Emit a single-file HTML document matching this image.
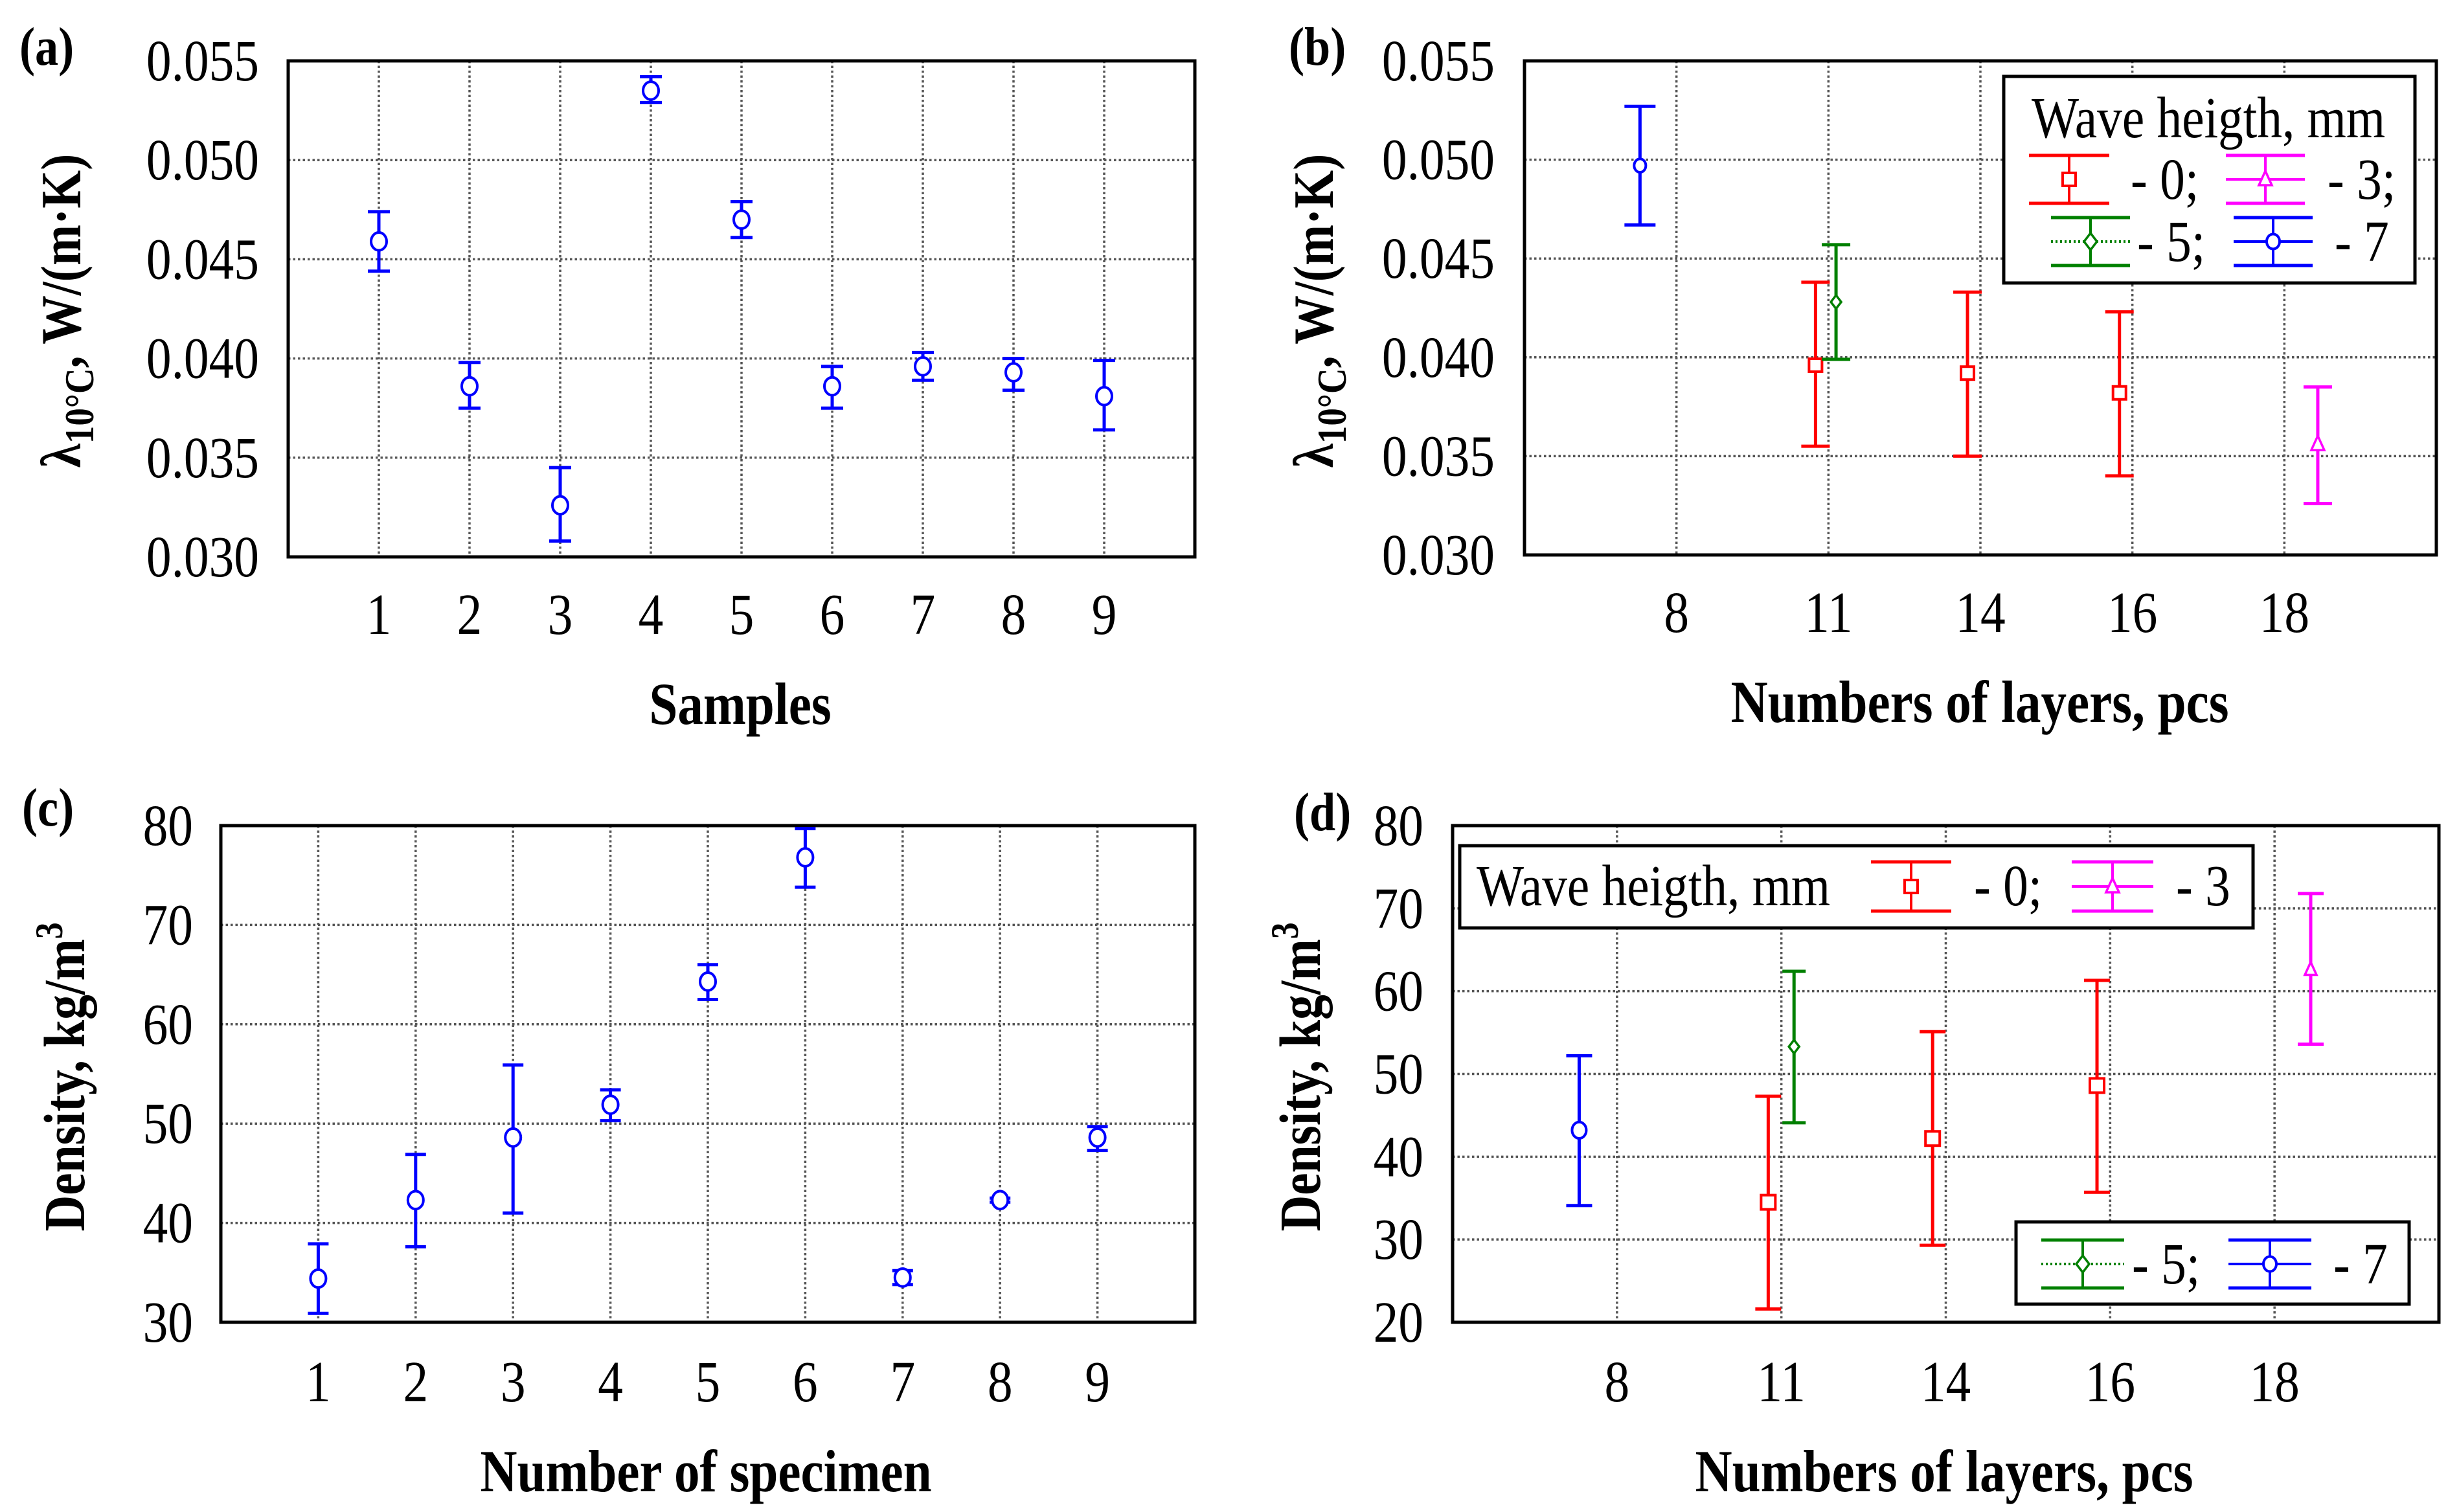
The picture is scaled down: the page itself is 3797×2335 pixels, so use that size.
<!DOCTYPE html>
<html><head><meta charset="utf-8"><style>
html,body{margin:0;padding:0;background:#fff;}
svg{display:block;font-family:"Liberation Serif","Times New Roman",Times,serif;}
svg text{font-family:"Liberation Serif","Times New Roman",Times,serif;fill:#000;}
</style></head>
<body>
<svg id="fig" xmlns="http://www.w3.org/2000/svg" width="3797" height="2335" viewBox="0 0 3797 2335" font-family="Liberation Serif, Times New Roman, serif"></svg>
<script>
// ---- Panel (a) data ----
const aCats = ['1','2','3','4','5','6','7','8','9'];
const aMean = [0.0459,0.0386,0.0326,0.0535,0.0470,0.0386,0.0396,0.0393,0.0381];
const aHi   = [0.0474,0.0398,0.0345,0.0542,0.0479,0.0396,0.0403,0.0400,0.0399];
const aLo   = [0.0444,0.0375,0.0308,0.0529,0.0461,0.0375,0.0389,0.0384,0.0364];
const aYTicks = ['0.030','0.035','0.040','0.045','0.050','0.055'];
const aYVals = [0.030,0.035,0.040,0.045,0.050,0.055];
// ---- Panel (b) data ----
const bCats = ['8','11','14','16','18'];
const bYTicks = ['0.030','0.035','0.040','0.045','0.050','0.055'];
const bYVals = [0.030,0.035,0.040,0.045,0.050,0.055];
const bRedIdx = [1,2,3];
const bRedMean = [0.0396,0.0392,0.0382];
const bRedHi = [0.0438,0.0433,0.0423];
const bRedLo = [0.0355,0.0350,0.0340];
const bGreenIdx = [1];
const bGreenMean = [0.0428];
const bGreenHi = [0.0457];
const bGreenLo = [0.0399];
const bBlueIdx = [0];
const bBlueMean = [0.0497];
const bBlueHi = [0.0527];
const bBlueLo = [0.0467];
const bMagIdx = [4];
const bMagMean = [0.0356];
const bMagHi = [0.0385];
const bMagLo = [0.0326];
// ---- Panel (c) data ----
const cCats = ['1','2','3','4','5','6','7','8','9'];
const cMean = [34.4,42.3,48.6,51.9,64.3,76.8,34.5,42.3,48.6];
const cHi   = [37.9,46.9,55.9,53.4,66.0,79.7,35.2,42.5,49.7];
const cLo   = [30.9,37.6,41.0,50.3,62.5,73.8,33.8,42.1,47.3];
const cYTicks = ['30','40','50','60','70','80'];
const cYVals = [30,40,50,60,70,80];
// ---- Panel (d) data ----
const dCats = ['8','11','14','16','18'];
const dYTicks = ['20','30','40','50','60','70','80'];
const dYVals = [20,30,40,50,60,70,80];
const dRedIdx = [1,2,3];
const dRedMean = [34.5,42.2,48.6];
const dRedHi = [47.3,55.1,61.3];
const dRedLo = [21.6,29.3,35.7];
const dGreenIdx = [1];
const dGreenMean = [53.3];
const dGreenHi = [62.4];
const dGreenLo = [44.1];
const dBlueIdx = [0];
const dBlueMean = [43.2];
const dBlueHi = [52.2];
const dBlueLo = [34.1];
const dMagIdx = [4];
const dMagMean = [62.6];
const dMagHi = [71.8];
const dMagLo = [53.6];

const NS = 'http://www.w3.org/2000/svg';
const FONT = '"Liberation Serif", "Times New Roman", serif';
const SX = 0.86;
const svg = document.getElementById('fig');
function mk(tag, attrs, parent){
  const e = document.createElementNS(NS, tag);
  for (const k in attrs) e.setAttribute(k, attrs[k]);
  if (tag === 'text'){
    e.style.fontFamily = FONT;
    if (attrs.transform){
      e.setAttribute('transform', attrs.transform + ` scale(${SX},1)`);
    } else {
      e.setAttribute('transform', `translate(${attrs.x},${attrs.y}) scale(${SX},1)`);
      e.setAttribute('x', 0);
      e.setAttribute('y', 0);
    }
  }
  (parent||svg).appendChild(e);
  return e;
}
function makeScale(b, xmin, xmax, ymin, ymax){
  return {
    x: v => b.x0 + (v - xmin) / (xmax - xmin) * (b.x1 - b.x0),
    y: v => b.y1 - (v - ymin) / (ymax - ymin) * (b.y1 - b.y0)
  };
}
function marker(g, type, cx, cy, color, s){
  let m;
  if (type === 'circle') m = mk('ellipse', {cx:cx, cy:cy, rx:s, ry:s*1.15, fill:'#fff', stroke:color, 'stroke-width':4}, g);
  else if (type === 'square') m = mk('rect', {x:cx-s, y:cy-s, width:2*s, height:2*s, fill:'#fff', stroke:color, 'stroke-width':4}, g);
  else if (type === 'diamond') m = mk('polygon', {points:`${cx},${cy-s*1.3} ${cx+s},${cy} ${cx},${cy+s*1.3} ${cx-s},${cy}`, fill:'#fff', stroke:color, 'stroke-width':3.5}, g);
  else m = mk('polygon', {points:`${cx},${cy-s*1.3} ${cx+s},${cy+s*0.9} ${cx-s},${cy+s*0.9}`, fill:'#fff', stroke:color, 'stroke-width':3.5}, g);
  
  
}
function errBar(g, x, yMean, yHi, yLo, color, cap, mtype, ms){
  const v = mk('line', {x1:x, x2:x, y1:yHi, y2:yLo, stroke:color, 'stroke-width':5}, g);
  
  
  const c1 = mk('line', {x1:x-cap, x2:x+cap, y1:yHi, y2:yHi, stroke:color, 'stroke-width':5}, g);
  
  
  const c2 = mk('line', {x1:x-cap, x2:x+cap, y1:yLo, y2:yLo, stroke:color, 'stroke-width':5}, g);
  
  
  marker(g, mtype, x, yMean, color, ms);
}
function frame(name, b, sc, xPos, xLabels, yVals, yLabels, tickRight, xLabelY){
  const g = mk('g', {});
  
  
  xPos.forEach(p => {
    const l = mk('line', {x1:sc.x(p), x2:sc.x(p), y1:b.y0, y2:b.y1, stroke:'#555', 'stroke-width':3.5, 'stroke-dasharray':'3.5 4'}, g);
    
    
  });
  yVals.forEach((v,i) => {
    if (i > 0 && i < yVals.length-1){
      const l = mk('line', {x1:b.x0, x2:b.x1, y1:sc.y(v), y2:sc.y(v), stroke:'#555', 'stroke-width':3.5, 'stroke-dasharray':'3.5 4'}, g);
      
      
    }
    const t = mk('text', {x:tickRight, y:sc.y(v)+30, 'text-anchor':'end', 'font-size':90}, g);
    t.textContent = yLabels[i];
    
    
  });
  xPos.forEach((p,i) => {
    const t = mk('text', {x:sc.x(p), y:xLabelY+30, 'text-anchor':'middle', 'font-size':90}, g);
    t.textContent = xLabels[i];
    
    
  });
  const r = mk('rect', {x:b.x0, y:b.y0, width:b.x1-b.x0, height:b.y1-b.y0, fill:'none', stroke:'#000', 'stroke-width':5}, g);
  
  
  return g;
}
function txt(x, y, s, size, bold, anchor, name){
  const t = mk('text', {x:x, y:y, 'font-size':size, 'font-weight':bold?'bold':'normal', 'text-anchor':anchor||'start'});
  t.textContent = s;
  
  
  return t;
}
function lambdaTitle(cx, cy){
  const t = mk('text', {x:0, y:0, 'font-size':88, 'font-weight':'bold', 'text-anchor':'middle', transform:`translate(${cx+28},${cy}) rotate(-90)`});
  
  
  const s1 = mk('tspan', {}, t); s1.textContent = 'λ';
  const s2 = mk('tspan', {'font-size':64, dy:20}, t); s2.textContent = '10°C';
  const s3 = mk('tspan', {dy:-20}, t); s3.textContent = ', W/(m·K)';
}
function densityTitle(cx, cy){
  const t = mk('text', {x:0, y:0, 'font-size':90, 'font-weight':'bold', 'text-anchor':'middle', transform:`translate(${cx+30},${cy}) rotate(-90)`});
  
  
  const s1 = mk('tspan', {}, t); s1.textContent = 'Density,  kg/m';
  const s2 = mk('tspan', {'font-size':60, dy:-34}, t); s2.textContent = '3';
}
function legendSym(g, cx, cy, half, hw, color, type, mid){
  const a = mk('line', {x1:cx-hw, x2:cx+hw, y1:cy-half, y2:cy-half, stroke:color, 'stroke-width':5}, g);
   
  const b2 = mk('line', {x1:cx-hw, x2:cx+hw, y1:cy+half, y2:cy+half, stroke:color, 'stroke-width':5}, g);
   
  const v = mk('line', {x1:cx, x2:cx, y1:cy-half, y2:cy+half, stroke:color, 'stroke-width':4}, g);
   
  if (mid){
    const m = mk('line', {x1:cx-hw, x2:cx+hw, y1:cy, y2:cy, stroke:color, 'stroke-width':4, 'stroke-dasharray': mid==='dot'?'3 4':'none'}, g);
     
  }
  marker(g, type, cx, cy, color, 10);
}

// ===== Panel (a) =====
const bA = {x0:445, x1:1845, y0:94, y1:860};
const sA = makeScale(bA, 0, 10, 0.030, 0.055);
const gA = frame('panel-a', bA, sA, aCats.map((c,i)=>i+1), aCats, aYVals, aYTicks, 400, 949);
aMean.forEach((v,i) => errBar(gA, sA.x(i+1), sA.y(v), sA.y(aHi[i]), sA.y(aLo[i]), '#0000ff', 17, 'circle', 12));
txt(30, 100, '(a)', 84, true, 'start', 'panel-label-a');
lambdaTitle(96, 480);
txt(1143, 1118, 'Samples', 92, true, 'middle', 'x-axis-title');

// ===== Panel (b) =====
const bB = {x0:2354, x1:3762, y0:94, y1:857};
const sB = makeScale(bB, -1, 5, 0.030, 0.055);
const gB = frame('panel-b', bB, sB, bCats.map((c,i)=>i), bCats, bYVals, bYTicks, 2308, 946);
bRedIdx.forEach((c,i) => errBar(gB, sB.x(c-0.085), sB.y(bRedMean[i]), sB.y(bRedHi[i]), sB.y(bRedLo[i]), '#ff0000', 22, 'square', 10));
bGreenIdx.forEach((c,i) => errBar(gB, sB.x(c+0.05), sB.y(bGreenMean[i]), sB.y(bGreenHi[i]), sB.y(bGreenLo[i]), '#008000', 22, 'diamond', 8));
bBlueIdx.forEach((c,i) => errBar(gB, sB.x(c-0.24), sB.y(bBlueMean[i]), sB.y(bBlueHi[i]), sB.y(bBlueLo[i]), '#0000ff', 24, 'circle', 9));
bMagIdx.forEach((c,i) => errBar(gB, sB.x(c+0.22), sB.y(bMagMean[i]), sB.y(bMagHi[i]), sB.y(bMagLo[i]), '#ff00ff', 22, 'triangle', 10));
txt(1990, 100, '(b)', 84, true, 'start', 'panel-label-b');
lambdaTitle(2030, 480);
txt(3057, 1115, 'Numbers of layers, pcs', 92, true, 'middle', 'x-axis-title');
{
  const lg = mk('g', {});
  
  
  const r = mk('rect', {x:3094, y:118, width:635, height:319, fill:'#fff', stroke:'#000', 'stroke-width':5}, lg);
   
  const t = mk('text', {x:3410, y:212, 'text-anchor':'middle', 'font-size':90}, lg);
  t.textContent = 'Wave heigth, mm';
   
  legendSym(lg, 3195, 277, 37, 62, '#ff0000', 'square', null);
  legendSym(lg, 3498, 277, 37, 61, '#ff00ff', 'triangle', 'solid');
  legendSym(lg, 3228, 373, 37, 61, '#008000', 'diamond', 'dot');
  legendSym(lg, 3510, 373, 37, 61, '#0000ff', 'circle', 'solid');
  [['- 0;',3290,307],['- 3;',3594,307],['- 5;',3300,403],['- 7',3605,403]].forEach(e => {
    const tt = mk('text', {x:e[1], y:e[2], 'font-size':90}, lg);
    tt.textContent = e[0];
     
  });
}

// ===== Panel (c) =====
const bC = {x0:341, x1:1845, y0:1275, y1:2042};
const sC = makeScale(bC, 0, 10, 30, 80);
const gC = frame('panel-c', bC, sC, cCats.map((c,i)=>i+1), cCats, cYVals, cYTicks, 298, 2134);
cMean.forEach((v,i) => errBar(gC, sC.x(i+1), sC.y(v), sC.y(cHi[i]), sC.y(cLo[i]), '#0000ff', 16, 'circle', 12));
txt(34, 1275, '(c)', 84, true, 'start', 'panel-label-c');
densityTitle(100, 1663);
txt(1090, 2303, 'Number of specimen', 92, true, 'middle', 'x-axis-title');

// ===== Panel (d) =====
const bD = {x0:2243, x1:3766, y0:1275, y1:2042};
const sD = makeScale(bD, -1, 5, 20, 80);
const gD = frame('panel-d', bD, sD, dCats.map((c,i)=>i), dCats, dYVals, dYTicks, 2198, 2134);
dRedIdx.forEach((c,i) => errBar(gD, sD.x(c-0.08), sD.y(dRedMean[i]), sD.y(dRedHi[i]), sD.y(dRedLo[i]), '#ff0000', 20, 'square', 11));
dGreenIdx.forEach((c,i) => errBar(gD, sD.x(c+0.077), sD.y(dGreenMean[i]), sD.y(dGreenHi[i]), sD.y(dGreenLo[i]), '#008000', 18, 'diamond', 8));
dBlueIdx.forEach((c,i) => errBar(gD, sD.x(c-0.23), sD.y(dBlueMean[i]), sD.y(dBlueHi[i]), sD.y(dBlueLo[i]), '#0000ff', 20, 'circle', 11));
dMagIdx.forEach((c,i) => errBar(gD, sD.x(c+0.22), sD.y(dMagMean[i]), sD.y(dMagHi[i]), sD.y(dMagLo[i]), '#ff00ff', 20, 'triangle', 9));
txt(1998, 1282, '(d)', 84, true, 'start', 'panel-label-d');
densityTitle(2008, 1663);
txt(3002, 2303, 'Numbers of layers, pcs', 92, true, 'middle', 'x-axis-title');
{
  const lg = mk('g', {});
  
  
  const r = mk('rect', {x:2254, y:1306, width:1225, height:127, fill:'#fff', stroke:'#000', 'stroke-width':5}, lg);
   
  const t = mk('text', {x:2280, y:1398, 'font-size':90}, lg);
  t.textContent = 'Wave heigth, mm';
   
  legendSym(lg, 2951, 1369, 38, 62, '#ff0000', 'square', null);
  legendSym(lg, 3262, 1369, 38, 63, '#ff00ff', 'triangle', 'dash');
  [['- 0;',3048,1398],['- 3',3360,1398]].forEach(e => {
    const tt = mk('text', {x:e[1], y:e[2], 'font-size':90}, lg);
    tt.textContent = e[0];
     
  });
  const lg2 = mk('g', {});
  
  
  const r2 = mk('rect', {x:3113, y:1887, width:607, height:127, fill:'#fff', stroke:'#000', 'stroke-width':5}, lg2);
   
  legendSym(lg2, 3216, 1952, 37, 64, '#008000', 'diamond', 'dot');
  legendSym(lg2, 3505, 1952, 37, 64, '#0000ff', 'circle', 'solid');
  [['- 5;',3292,1982],['- 7',3603,1982]].forEach(e => {
    const tt = mk('text', {x:e[1], y:e[2], 'font-size':90}, lg2);
    tt.textContent = e[0];
     
  });
}
</script>
</body></html>
